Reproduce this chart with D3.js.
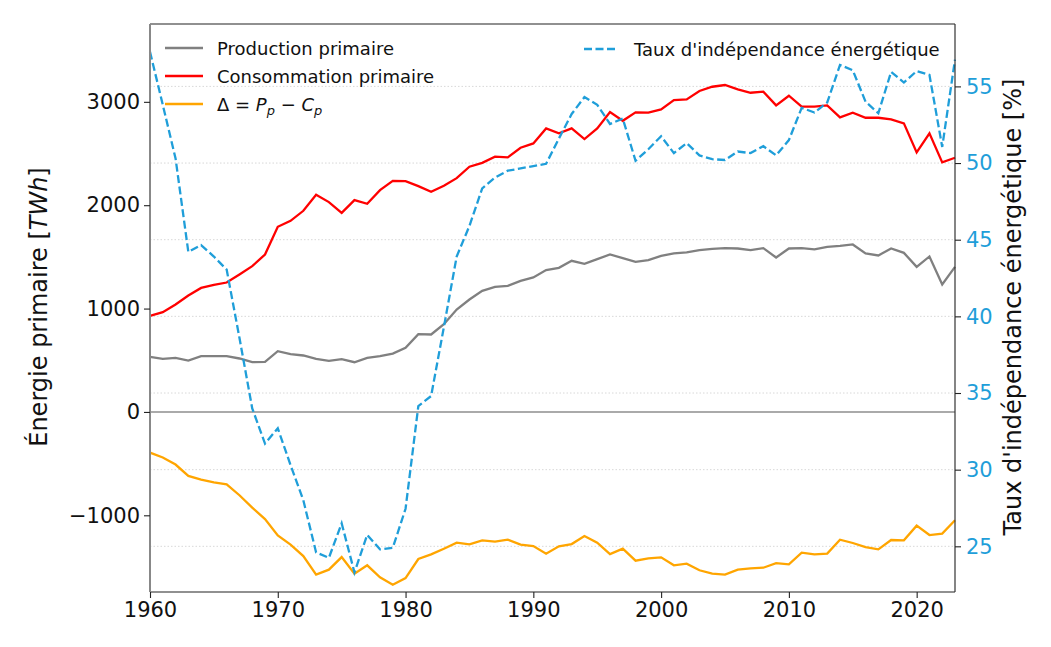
<!DOCTYPE html>
<html>
<head>
<meta charset="utf-8">
<script src="https://cdn.jsdelivr.net/npm/d3@7"></script>
<style>
  body { margin: 0; background: #fff; }
  text { font-family: "DejaVu Sans", sans-serif; }
</style>
</head>
<body>
<script>
// data (TWh and %)
var years = d3.range(1960, 2024);

var production = [532, 513, 523, 497, 539, 539, 539, 517, 481, 484,
    588, 559, 546, 513, 494, 510, 481, 523, 539, 565,
    620, 752, 749, 849, 991, 1088, 1171, 1210, 1220, 1268,
    1301, 1372, 1394, 1462, 1433, 1478, 1523, 1488, 1452, 1469,
    1510, 1533, 1543, 1565, 1578, 1585, 1581, 1565, 1585, 1494,
    1581, 1585, 1572, 1597, 1607, 1620, 1533, 1514, 1581, 1539,
    1404, 1504, 1233, 1404];

var consommation = [929, 965, 1040, 1127, 1200, 1230, 1252, 1330, 1410, 1523,
    1791, 1849, 1946, 2101, 2030, 1926, 2049, 2014, 2146, 2236,
    2233, 2185, 2130, 2188, 2262, 2372, 2410, 2469, 2463, 2556,
    2598, 2743, 2695, 2743, 2640, 2743, 2901, 2817, 2898, 2895,
    2927, 3017, 3024, 3105, 3146, 3163, 3121, 3088, 3098, 2966,
    3059, 2953, 2953, 2966, 2850, 2895, 2846, 2846, 2831, 2792,
    2511, 2695, 2414, 2459];

var delta = [-393, -441, -509, -619, -655, -681, -700, -806, -926, -1036,
    -1194, -1284, -1394, -1574, -1526, -1404, -1565, -1484, -1600, -1671,
    -1607, -1423, -1378, -1323, -1265, -1281, -1242, -1255, -1236, -1284,
    -1297, -1371, -1300, -1278, -1200, -1265, -1375, -1323, -1439, -1416,
    -1407, -1484, -1468, -1532, -1565, -1574, -1526, -1513, -1507, -1462,
    -1474, -1361, -1378, -1371, -1236, -1268, -1307, -1329, -1239, -1242,
    -1100, -1191, -1177, -1048];

var taux = [57.26, 53.8, 50.3, 44.2, 44.65, 43.9, 43.05, 38.6, 34.0, 31.7,
    32.7, 30.3, 28.0, 24.6, 24.25, 26.5, 23.3, 25.75, 24.8, 24.9,
    27.45, 34.15, 34.8, 39.3, 43.9, 45.9, 48.35, 49.05, 49.5, 49.65,
    49.8, 49.95, 51.6, 53.2, 54.3, 53.8, 52.55, 52.9, 50.15, 50.9,
    51.75, 50.65, 51.3, 50.5, 50.25, 50.2, 50.75, 50.65, 51.1, 50.5,
    51.5, 53.6, 53.3, 53.95, 56.4, 56.05, 54.0, 53.25, 55.95, 55.25,
    56.0, 55.75, 51.05, 56.75];

var xTicks = [1960, 1970, 1980, 1990, 2000, 2010, 2020];
var yLeftTicks = [-1000, 0, 1000, 2000, 3000];
var yRightTicks = [25, 30, 35, 40, 45, 50, 55];

var W = 1051, H = 647;
var pLeft = 150, pRight = 955, pTop = 24, pBottom = 592;
var blue = "#1f9ed9";

var svg = d3.select("body").append("svg")
    .attr("width", W)
    .attr("height", H);

var x = d3.scaleLinear().domain([1960, 2023]).range([pLeft, pRight]);
var yL = d3.scaleLinear().domain([-1742, 3753]).range([pBottom, pTop]);
var yR = d3.scaleLinear().domain([22.02, 59.07]).range([pBottom, pTop]);

// dotted grid on the right axis ticks
svg.append("g").selectAll("line")
    .data(yRightTicks)
    .enter().append("line")
    .attr("x1", pLeft).attr("x2", pRight)
    .attr("y1", function(d) { return yR(d); })
    .attr("y2", function(d) { return yR(d); })
    .attr("stroke", "#d8d8d8")
    .attr("stroke-width", 1)
    .attr("stroke-dasharray", "1.5,2");

// zero line
svg.append("line")
    .attr("x1", pLeft).attr("x2", pRight)
    .attr("y1", yL(0)).attr("y2", yL(0))
    .attr("stroke", "#aaaaaa")
    .attr("stroke-width", 2);

function series(vals) {
    return years.map(function(yr, i) { return [yr, vals[i]]; });
}

var lineL = d3.line()
    .x(function(d) { return x(d[0]); })
    .y(function(d) { return yL(d[1]); });
var lineR = d3.line()
    .x(function(d) { return x(d[0]); })
    .y(function(d) { return yR(d[1]); });

var plot = svg.append("g");

plot.append("path")
    .datum(series(production))
    .attr("d", lineL)
    .attr("fill", "none")
    .attr("stroke", "#808080")
    .attr("stroke-width", 2.3);

plot.append("path")
    .datum(series(consommation))
    .attr("d", lineL)
    .attr("fill", "none")
    .attr("stroke", "#ff0000")
    .attr("stroke-width", 2.3);

plot.append("path")
    .datum(series(delta))
    .attr("d", lineL)
    .attr("fill", "none")
    .attr("stroke", "#ffa500")
    .attr("stroke-width", 2.3);

plot.append("path")
    .datum(series(taux))
    .attr("d", lineR)
    .attr("fill", "none")
    .attr("stroke", blue)
    .attr("stroke-width", 2.3)
    .attr("stroke-dasharray", "8,3.5");

// frame
svg.append("line").attr("x1", pLeft).attr("x2", pRight).attr("y1", pTop).attr("y2", pTop)
    .attr("stroke", "#222").attr("stroke-width", 1.2);
svg.append("line").attr("x1", pLeft).attr("x2", pRight).attr("y1", pBottom).attr("y2", pBottom)
    .attr("stroke", "#222").attr("stroke-width", 1.2);
svg.append("line").attr("x1", pRight).attr("x2", pRight).attr("y1", pTop).attr("y2", pBottom)
    .attr("stroke", "#333").attr("stroke-width", 1.2);
svg.append("line").attr("x1", pLeft).attr("x2", pLeft).attr("y1", pTop).attr("y2", pBottom)
    .attr("stroke", "#888").attr("stroke-width", 2);

// axes
var xAxis = svg.append("g")
    .attr("transform", "translate(0," + pBottom + ")")
    .call(d3.axisBottom(x).tickValues(xTicks).tickFormat(d3.format("d")).tickSize(6).tickPadding(4));

var yAxisL = svg.append("g")
    .attr("transform", "translate(" + pLeft + ",0)")
    .call(d3.axisLeft(yL).tickValues(yLeftTicks).tickFormat(function(d) {
        return d < 0 ? "\u2212" + Math.abs(d) : d;
    }).tickSize(6).tickPadding(4));

var yAxisR = svg.append("g")
    .attr("transform", "translate(" + pRight + ",0)")
    .call(d3.axisRight(yR).tickValues(yRightTicks).tickSize(6).tickPadding(5));

[xAxis, yAxisL, yAxisR].forEach(function(a) {
    a.select(".domain").remove();
    a.selectAll("text").attr("font-size", 21).attr("font-family", "DejaVu Sans");
    a.selectAll(".tick line").attr("stroke", "#222").attr("stroke-width", 1.1);
});
xAxis.selectAll("text").attr("fill", "#111");
yAxisL.selectAll("text").attr("fill", "#111");
yAxisR.selectAll("text").attr("fill", blue);

// axis titles
var tL = svg.append("text")
    .attr("transform", "translate(47,307) rotate(-90)")
    .attr("text-anchor", "middle")
    .attr("font-size", 24)
    .attr("fill", "#111");
tL.append("tspan").text("Énergie primaire [");
tL.append("tspan").attr("font-style", "italic").text("TWh");
tL.append("tspan").text("]");

svg.append("text")
    .attr("transform", "translate(1021,307) rotate(-90)")
    .attr("text-anchor", "middle")
    .attr("font-size", 24)
    .attr("fill", "#111")
    .text("Taux d'indépendance énergétique [%]");

// legends
var legendItems = [
    { label: "Production primaire", color: "#808080" },
    { label: "Consommation primaire", color: "#ff0000" },
    { label: null, color: "#ffa500" }
];
var legRows = [48, 76, 104];

legendItems.forEach(function(item, i) {
    var yy = legRows[i];
    svg.append("line")
        .attr("x1", 165).attr("x2", 203)
        .attr("y1", yy).attr("y2", yy)
        .attr("stroke", item.color)
        .attr("stroke-width", 2.3);
    var t = svg.append("text")
        .attr("x", 217).attr("y", yy + 6.5)
        .attr("font-size", 18)
        .attr("fill", "#111");
    if (item.label) {
        t.text(item.label);
    } else {
        t.append("tspan").text("\u0394 = ");
        t.append("tspan").attr("font-style", "italic").text("P");
        t.append("tspan").attr("font-style", "italic").attr("font-size", 13).attr("dy", 4).text("p");
        t.append("tspan").attr("dy", -4).text(" \u2212 ");
        t.append("tspan").attr("font-style", "italic").text("C");
        t.append("tspan").attr("font-style", "italic").attr("font-size", 13).attr("dy", 4).text("p");
    }
});

svg.append("line")
    .attr("x1", 584).attr("x2", 616)
    .attr("y1", 49).attr("y2", 49)
    .attr("stroke", blue)
    .attr("stroke-width", 2.3)
    .attr("stroke-dasharray", "8,3.5");
svg.append("text")
    .attr("x", 634).attr("y", 55.5)
    .attr("font-size", 18)
    .attr("fill", "#111")
    .text("Taux d'indépendance énergétique");
</script>
</body>
</html>
